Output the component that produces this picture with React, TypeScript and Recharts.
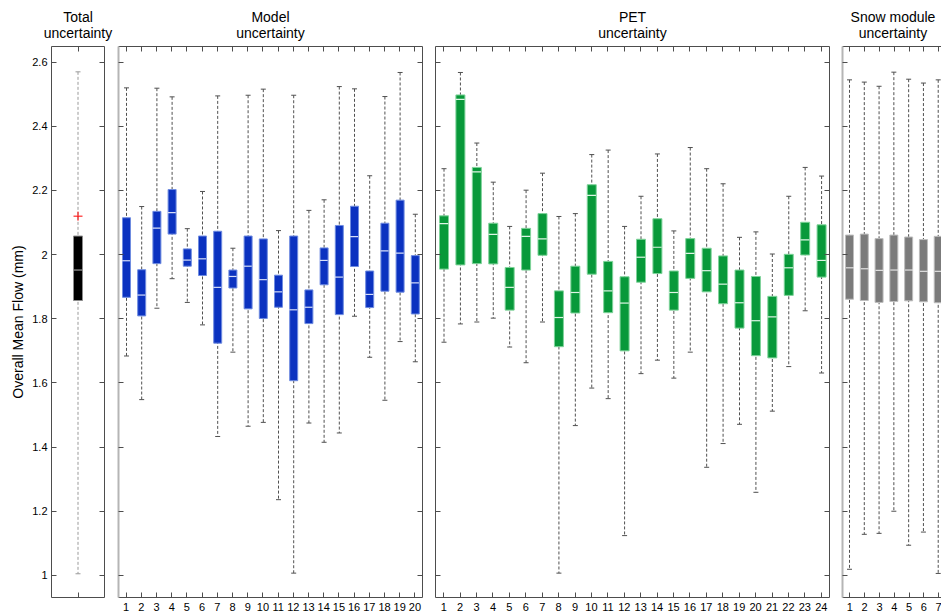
import React from 'react';
import { ComposedChart, Bar, Scatter, XAxis, YAxis } from 'recharts';

const FONT = '"Liberation Sans", Arial, Helvetica, sans-serif';

// shared y scale
const Y_TICKS = [1, 1.2, 1.4, 1.6, 1.8, 2, 2.2, 2.4, 2.6];
const Y_DOMAIN: [number, number] = [0.931, 2.649];

// Total uncertainty
const TOTAL_LABELS = [''];
const TOTAL_MAX = [2.57];
const TOTAL_Q3 = [2.058];
const TOTAL_MED = [1.952];
const TOTAL_Q1 = [1.857];
const TOTAL_MIN = [1.005];
const TOTAL_OUTLIER = [2.12];

// Model uncertainty
const MODEL_LABELS = ['1', '2', '3', '4', '5', '6', '7', '8', '9', '10', '11', '12', '13', '14', '15', '16', '17', '18', '19', '20'];
const MODEL_MAX = [2.52, 2.15, 2.519, 2.492, 2.081, 2.197, 2.495, 2.02, 2.497, 2.516, 2.075, 2.497, 2.138, 2.171, 2.524, 2.517, 2.246, 2.493, 2.568, 2.126];
const MODEL_Q3 = [2.115, 1.953, 2.135, 2.203, 2.018, 2.058, 2.073, 1.952, 2.058, 2.049, 1.936, 2.058, 1.89, 2.021, 2.091, 2.151, 1.949, 2.098, 2.17, 1.997];
const MODEL_MED = [1.981, 1.874, 2.083, 2.131, 1.983, 1.987, 1.898, 1.932, 1.964, 1.922, 1.884, 1.828, 1.836, 1.982, 1.93, 2.056, 1.876, 2.012, 2.005, 1.912];
const MODEL_Q1 = [1.867, 1.809, 1.972, 2.064, 1.964, 1.935, 1.724, 1.896, 1.831, 1.801, 1.836, 1.607, 1.785, 1.906, 1.813, 1.963, 1.835, 1.886, 1.883, 1.815];
const MODEL_MIN = [1.684, 1.548, 1.833, 1.925, 1.851, 1.781, 1.433, 1.696, 1.465, 1.477, 1.236, 1.007, 1.475, 1.415, 1.444, 1.808, 1.68, 1.546, 1.729, 1.666];

// PET uncertainty
const PET_LABELS = ['1', '2', '3', '4', '5', '6', '7', '8', '9', '10', '11', '12', '13', '14', '15', '16', '17', '18', '19', '20', '21', '22', '23', '24'];
const PET_MAX = [2.268, 2.568, 2.348, 2.226, 2.088, 2.201, 2.254, 2.119, 2.128, 2.312, 2.326, 2.088, 2.182, 2.314, 2.074, 2.334, 2.268, 2.221, 2.054, 2.071, 2.002, 2.182, 2.272, 2.245];
const PET_Q3 = [2.121, 2.498, 2.272, 2.098, 1.96, 2.082, 2.128, 1.887, 1.964, 2.218, 1.979, 1.931, 2.048, 2.112, 1.949, 2.05, 2.02, 1.996, 1.952, 1.932, 1.87, 2.001, 2.101, 2.093];
const PET_MED = [2.097, 2.484, 2.258, 2.063, 1.898, 2.057, 2.049, 1.804, 1.882, 2.185, 1.887, 1.849, 1.992, 2.023, 1.882, 2.004, 1.95, 1.908, 1.85, 1.794, 1.806, 1.959, 2.046, 1.982];
const PET_Q1 = [1.955, 1.968, 1.972, 1.971, 1.827, 1.952, 1.998, 1.713, 1.818, 1.939, 1.819, 1.7, 1.914, 1.941, 1.827, 1.926, 1.884, 1.847, 1.771, 1.685, 1.678, 1.873, 1.999, 1.93];
const PET_MIN = [1.727, 1.784, 1.79, 1.802, 1.712, 1.663, 1.79, 1.007, 1.467, 1.584, 1.551, 1.124, 1.629, 1.671, 1.615, 1.696, 1.337, 1.411, 1.471, 1.259, 1.512, 1.651, 1.825, 1.631];

// Snow module uncertainty
const SNOW_LABELS = ['1', '2', '3', '4', '5', '6', '7'];
const SNOW_MAX = [2.545, 2.538, 2.525, 2.569, 2.547, 2.535, 2.545];
const SNOW_Q3 = [2.061, 2.064, 2.05, 2.061, 2.055, 2.047, 2.057];
const SNOW_MED = [1.959, 1.956, 1.951, 1.952, 1.952, 1.948, 1.948];
const SNOW_Q1 = [1.861, 1.857, 1.851, 1.854, 1.856, 1.853, 1.85];
const SNOW_MIN = [1.019, 1.128, 1.131, 1.2, 1.094, 1.135, 1.006];

const BORDER = '#4d4d4d';
const TICK = '#4d4d4d';
const X_MARGIN = 6;
const Y_MARGIN = 4;
const TICK_LEN = 5;

// snap a 1px line to the pixel grid so it stays sharp
const crisp = (v: number) => Math.round(v - 0.5) + 0.5;

// bottom: label below the axis + short inward tick
function XTick(props: any) {
  const { x, y, payload, showText } = props;
  const axisY = y - X_MARGIN;
  const cx = crisp(x);
  return (
    <g>
      <line x1={cx} x2={cx} y1={axisY} y2={axisY - TICK_LEN} stroke={TICK} strokeWidth={1} />
      {showText && (
        <text x={x} y={y} dy="0.71em" textAnchor="middle" fontSize={11} fill="#000" fontFamily={FONT}>
          {payload.value}
        </text>
      )}
    </g>
  );
}

// top: inward tick only
function TopTick(props: any) {
  const { x, y } = props;
  const cx = crisp(x);
  return <line x1={cx} x2={cx} y1={y} y2={y + TICK_LEN} stroke={TICK} strokeWidth={1} />;
}

// left of first panel: value label + inward tick
function YLabelTick(props: any) {
  const { x, y, payload } = props;
  const axisX = x + Y_MARGIN;
  const cy = crisp(y);
  return (
    <g>
      <line x1={axisX} x2={axisX + TICK_LEN} y1={cy} y2={cy} stroke={TICK} strokeWidth={1} />
      <text x={x} y={y} dy="0.355em" textAnchor="end" fontSize={11} fill="#000" fontFamily={FONT}>
        {payload.value}
      </text>
    </g>
  );
}

function LeftTick(props: any) {
  const { x, y } = props;
  const cy = crisp(y);
  return <line x1={x} x2={x + TICK_LEN} y1={cy} y2={cy} stroke={TICK} strokeWidth={1} />;
}

function RightTick(props: any) {
  const { x, y } = props;
  const cy = crisp(y);
  return <line x1={x - TICK_LEN} x2={x} y1={cy} y2={cy} stroke={TICK} strokeWidth={1} />;
}

function Whisker(props: any) {
  const { x, y, width, height, lineColor } = props;
  if (x == null || y == null) return null;
  const cx = x + width / 2;
  const top = Math.min(y, y + height);
  const bot = Math.max(y, y + height);
  return (
    <g>
      <line x1={cx} x2={cx} y1={top} y2={bot} stroke={lineColor} strokeWidth={1} strokeDasharray="3 2" />
      <line x1={cx - 2.5} x2={cx + 2.5} y1={top} y2={top} stroke={lineColor} strokeWidth={1} />
      <line x1={cx - 2.5} x2={cx + 2.5} y1={bot} y2={bot} stroke={lineColor} strokeWidth={1} />
    </g>
  );
}

function MedianMark(props: any) {
  const { cx, cy, half, lineColor } = props;
  if (cx == null || cy == null) return null;
  return <line x1={cx - half} x2={cx + half} y1={cy} y2={cy} stroke={lineColor} strokeWidth={1.2} />;
}

function Plus(props: any) {
  const { cx, cy } = props;
  if (cx == null || cy == null) return null;
  return (
    <g stroke="#ff0000" strokeWidth={1}>
      <line x1={cx - 4.5} x2={cx + 4.5} y1={cy} y2={cy} />
      <line x1={cx} x2={cx} y1={cy - 4.5} y2={cy + 4.5} />
    </g>
  );
}

interface PanelProps {
  labels: string[];
  min: number[];
  q1: number[];
  med: number[];
  q3: number[];
  max: number[];
  outlier?: number[];
  left: number;
  width: number;
  marginLeft: number;
  marginRight: number;
  boxW: number;
  fill: string;
  edge: string;
  medColor: string;
  whiskerColor: string;
  leftBorder: { stroke: string; strokeWidth: number };
  yLabels?: boolean;
  xLabels?: boolean;
}

function BoxPanel(p: PanelProps) {
  const data = p.labels.map((name, i) => ({
    name,
    range: [p.min[i], p.max[i]],
    box: [p.q1[i], p.q3[i]],
    median: p.med[i],
    outlier: p.outlier ? p.outlier[i] : null,
  }));

  // thin (1px) frame axes take 1px of the margin each
  const mLeft = p.yLabels ? p.marginLeft : p.marginLeft - 1;
  const mRight = p.marginRight - 1;

  return (
    <div style={{ position: 'absolute', left: p.left, top: 0 }}>
      <ComposedChart
        width={p.width}
        height={614}
        data={data}
        margin={{ top: 45.5, right: mRight, bottom: 0.5, left: mLeft }}
      >
        <XAxis
          xAxisId="a_lab"
          dataKey="name"
          height={16}
          interval={0}
          tickLine={false}
          tickSize={0}
          tickMargin={X_MARGIN}
          axisLine={{ stroke: BORDER }}
          tick={(t: any) => <XTick {...t} showText={p.xLabels} />}
        />
        <XAxis
          xAxisId="b_top"
          dataKey="name"
          orientation="top"
          height={1}
          interval={0}
          tickLine={false}
          tickSize={0}
          tickMargin={0}
          tick={TopTick}
          axisLine={{ stroke: BORDER }}
        />
        <XAxis xAxisId="c_wh" dataKey="name" hide height={0} />
        <XAxis xAxisId="d_bx" dataKey="name" hide height={0} />
        {p.yLabels ? (
          <YAxis
            yAxisId="v"
            type="number"
            domain={Y_DOMAIN}
            ticks={Y_TICKS}
            allowDataOverflow
            width={51}
            tickLine={false}
            tickSize={0}
            tickMargin={Y_MARGIN}
            axisLine={{ stroke: BORDER }}
            tick={YLabelTick}
          />
        ) : (
          <YAxis
            yAxisId="v"
            type="number"
            domain={Y_DOMAIN}
            ticks={Y_TICKS}
            allowDataOverflow
            width={1}
            tickLine={false}
            tickSize={0}
            tickMargin={0}
            tick={LeftTick}
            axisLine={p.leftBorder}
          />
        )}
        <YAxis
          yAxisId="vr"
          orientation="right"
          type="number"
          domain={Y_DOMAIN}
          ticks={Y_TICKS}
          allowDataOverflow
          width={1}
          tickLine={false}
          tickSize={0}
          tickMargin={0}
          tick={RightTick}
          axisLine={{ stroke: BORDER }}
        />
        <Bar
          xAxisId="c_wh"
          yAxisId="v"
          dataKey="range"
          barSize={p.boxW}
          isAnimationActive={false}
          shape={(s: any) => <Whisker {...s} lineColor={p.whiskerColor} />}
        />
        <Bar
          xAxisId="d_bx"
          yAxisId="v"
          dataKey="box"
          barSize={p.boxW}
          fill={p.fill}
          stroke={p.edge}
          strokeWidth={1}
          isAnimationActive={false}
        />
        <Scatter
          xAxisId="d_bx"
          yAxisId="v"
          dataKey="median"
          isAnimationActive={false}
          shape={(s: any) => <MedianMark {...s} half={p.boxW / 2} lineColor={p.medColor} />}
        />
        {p.outlier && (
          <Scatter
            xAxisId="d_bx"
            yAxisId="v"
            dataKey="outlier"
            isAnimationActive={false}
            shape={(s: any) => <Plus {...s} />}
          />
        )}
      </ComposedChart>
    </div>
  );
}

const titleStyle = (cx: number): React.CSSProperties => ({
  position: 'absolute',
  left: cx - 100,
  width: 200,
  top: 9,
  textAlign: 'center',
  fontSize: 14,
  lineHeight: '16px',
  color: '#000',
  fontFamily: FONT,
});

export default function App() {
  return (
    <div
      style={{
        position: 'fixed',
        left: 0,
        top: 0,
        width: 941,
        height: 614,
        overflow: 'hidden',
        background: '#fff',
        fontFamily: FONT,
      }}
    >
      <BoxPanel
        labels={TOTAL_LABELS}
        min={TOTAL_MIN}
        q1={TOTAL_Q1}
        med={TOTAL_MED}
        q3={TOTAL_Q3}
        max={TOTAL_MAX}
        outlier={TOTAL_OUTLIER}
        left={0}
        width={107}
        marginLeft={0.5}
        marginRight={2.5}
        boxW={9}
        fill="#000000"
        edge="#8c8c8c"
        medColor="#9a9a9a"
        whiskerColor="#9a9a9a"
        leftBorder={{ stroke: BORDER, strokeWidth: 1 }}
        yLabels
      />
      <BoxPanel
        labels={MODEL_LABELS}
        min={MODEL_MIN}
        q1={MODEL_Q1}
        med={MODEL_MED}
        q3={MODEL_Q3}
        max={MODEL_MAX}
        left={110}
        width={320}
        marginLeft={8.5}
        marginRight={7.5}
        boxW={8}
        fill="#0b32c0"
        edge="#6f8ce0"
        medColor="#d6def8"
        whiskerColor="#505050"
        leftBorder={{ stroke: '#b5b5b5', strokeWidth: 2 }}
        xLabels
      />
      <BoxPanel
        labels={PET_LABELS}
        min={PET_MIN}
        q1={PET_Q1}
        med={PET_MED}
        q3={PET_Q3}
        max={PET_MAX}
        left={430}
        width={405}
        marginLeft={5.5}
        marginRight={5.5}
        boxW={9}
        fill="#08993a"
        edge="#7fd39a"
        medColor="#dff5e6"
        whiskerColor="#505050"
        leftBorder={{ stroke: BORDER, strokeWidth: 1 }}
        xLabels
      />
      <BoxPanel
        labels={SNOW_LABELS}
        min={SNOW_MIN}
        q1={SNOW_Q1}
        med={SNOW_MED}
        q3={SNOW_Q3}
        max={SNOW_MAX}
        left={836}
        width={120}
        marginLeft={6.5}
        marginRight={10}
        boxW={8}
        fill="#7b7b7b"
        edge="#bdbdbd"
        medColor="#e2e2e2"
        whiskerColor="#505050"
        leftBorder={{ stroke: '#b5b5b5', strokeWidth: 2 }}
        xLabels
      />

      <div style={titleStyle(78)}>Total<br />uncertainty</div>
      <div style={titleStyle(270.5)}>Model<br />uncertainty</div>
      <div style={titleStyle(632.5)}>PET<br />uncertainty</div>
      <div style={titleStyle(893)}>Snow module<br />uncertainty</div>

      <div
        style={{
          position: 'absolute',
          left: 18,
          top: 322,
          transform: 'translate(-50%, -50%) rotate(-90deg)',
          whiteSpace: 'nowrap',
          fontSize: 14,
          color: '#000',
          fontFamily: FONT,
        }}
      >
        Overall Mean Flow (mm)
      </div>
    </div>
  );
}
